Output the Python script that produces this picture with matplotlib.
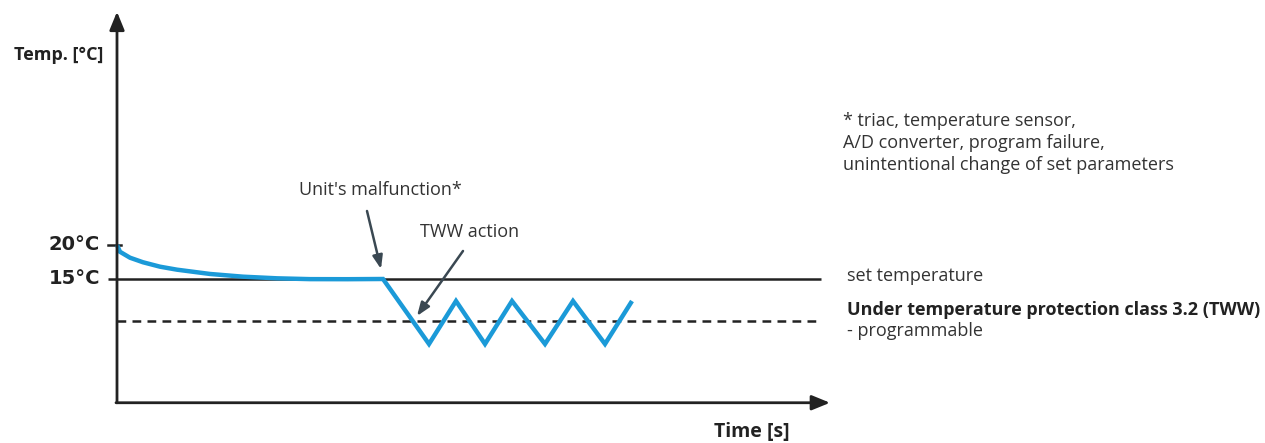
import matplotlib
matplotlib.use("Agg")
import matplotlib.pyplot as plt

# ---- data (time in arbitrary seconds, temperature in °C) ----
cool_t = [0, 0.6, 2.6, 5.2, 8.6, 12.0, 18.6, 25.2, 32.0, 38.6, 46.0, 53.2]
cool_T = [20.0, 19.0, 18.13, 17.46, 16.81, 16.37, 15.74, 15.34, 15.1, 14.98, 14.97, 15.0]
zig_t = [53.2, 62.4, 67.8, 73.6, 79.0, 85.6, 91.2, 97.6, 103.0]
zig_T = [15.0, 5.44, 11.76, 5.44, 11.76, 5.44, 11.76, 5.44, 11.76]
set_temp = 15.0
tww_limit = 8.8
start_temp = 20.0
tick_labels = ["20°C", "15°C"]
tick_values = [20.0, 15.0]

# axis extents
T_AXIS_MIN, T_AXIS_MAX = -3.2, 54.3
T_END = 142.6
LINE_END = 140.8

BLUE = "#1b9ad8"
DARK = "#222222"
TXT = "#333333"
ARROW = "#3a4852"

FAM = ["Open Sans", "DejaVu Sans"]

fig = plt.figure(figsize=(12.65, 4.43), dpi=100)
ax = fig.add_axes([0, 0, 1, 1])
ax.set_xlim(-23.4, 229.6)
ax.set_ylim(-9.12, 56.03)
ax.axis("off")

reg = dict(family=FAM, color=TXT, fontsize=13)
bold = dict(family=FAM, color=DARK, fontsize=13, fontweight="bold")

# axes with arrows
ax.annotate("", xy=(0, T_AXIS_MAX), xytext=(0, T_AXIS_MIN),
            arrowprops=dict(arrowstyle="-|>,head_length=1.1,head_width=0.45", color=DARK, lw=2,
                            shrinkA=0, shrinkB=0))
ax.annotate("", xy=(T_END, T_AXIS_MIN), xytext=(-0.2, T_AXIS_MIN),
            arrowprops=dict(arrowstyle="-|>,head_length=1.1,head_width=0.45", color=DARK, lw=2,
                            shrinkA=0, shrinkB=0))

# reference lines
ax.plot([-1.8, LINE_END], [set_temp, set_temp], color=DARK, lw=1.8, solid_capstyle="butt")
ax.plot([0, LINE_END], [tww_limit, tww_limit], color=DARK, lw=1.8, dashes=(3.5, 2.5))
ax.plot([-1.8, 0.8], [start_temp, start_temp], color=DARK, lw=1.8)

# temperature curve
ax.plot(cool_t + zig_t[1:], cool_T + zig_T[1:], color=BLUE, lw=3.2,
        solid_joinstyle="miter", solid_capstyle="butt")

# tick labels
for lab, v in zip(tick_labels, tick_values):
    ax.text(-3.4, v, lab, ha="right", va="center", fontsize=14, fontweight="bold",
            family=["DejaVu Sans"], color=DARK)

ax.text(-2.8, 47.9, "Temp. [°C]", ha="right", va="center", **bold)
ax.text(127, -7.5, "Time [s]", ha="center", va="center", **{**bold, "fontsize": 14})

# right-side labels
ax.text(146, 15.4, "set temperature", ha="left", va="center", **reg)
ax.text(146, 10.44, "Under temperature protection class 3.2 (TWW)", ha="left", va="center", **bold)
ax.text(146, 7.4, "- programmable", ha="left", va="center", **reg)
ax.text(145.2, 35.0, "* triac, temperature sensor,\nA/D converter, program failure,\nunintentional change of set parameters",
        ha="left", va="center", linespacing=1.3, **reg)

# annotations
ax.text(52.6, 28.1, "Unit's malfunction*", ha="center", va="center", **reg)
ax.text(70.6, 21.9, "TWW action", ha="center", va="center", **reg)
ax.annotate("", xy=(52.8, 16.47), xytext=(50.0, 25.0),
            arrowprops=dict(arrowstyle="-|>,head_length=0.8,head_width=0.3", color=ARROW, lw=1.8,
                            shrinkA=0, shrinkB=0))
ax.annotate("", xy=(60.0, 9.56), xytext=(69.2, 19.12),
            arrowprops=dict(arrowstyle="-|>,head_length=0.8,head_width=0.3", color=ARROW, lw=1.8,
                            shrinkA=0, shrinkB=0))

fig.savefig("out.png", dpi=100)
